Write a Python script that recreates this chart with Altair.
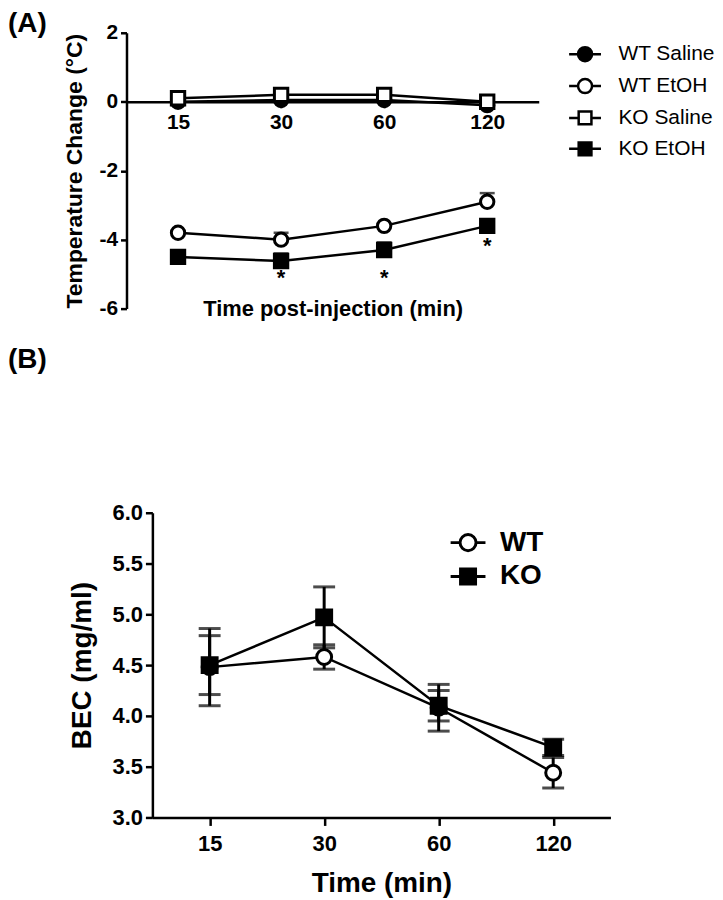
import altair as alt
import pandas as pd

FONT = "Liberation Sans"
times = ["15", "30", "60", "120"]

# ---------------- Panel A data ----------------
a_series = ["WT Saline", "WT EtOH", "KO Saline", "KO EtOH"]
a_wt_saline = [0.0, 0.05, 0.05, -0.1]
a_wt_saline_err = [0.05, 0.05, 0.05, 0.05]
a_wt_etoh = [-3.8, -4.0, -3.6, -2.9]
a_wt_etoh_err = [0.05, 0.2, 0.05, 0.25]
a_ko_saline = [0.1, 0.2, 0.2, 0.0]
a_ko_saline_err = [0.05, 0.05, 0.05, 0.05]
a_ko_etoh = [-4.5, -4.62, -4.3, -3.6]
a_ko_etoh_err = [0.05, 0.22, 0.22, 0.05]
sig_times = ["30", "60", "120"]
sig_y = [-5.0, -5.0, -4.08]

# ---------------- Panel B data ----------------
b_series = ["WT", "KO"]
b_wt = [4.48, 4.58, 4.08, 3.44]
b_wt_err = [0.38, 0.12, 0.23, 0.15]
b_ko = [4.50, 4.97, 4.10, 3.69]
b_ko_err = [0.29, 0.30, 0.15, 0.08]

a_means = [a_wt_saline, a_wt_etoh, a_ko_saline, a_ko_etoh]
a_errs = [a_wt_saline_err, a_wt_etoh_err, a_ko_saline_err, a_ko_etoh_err]
rows = []
for s, m, e in zip(a_series, a_means, a_errs):
    for t, v, ev in zip(times, m, e):
        rows.append({"series": s, "time": t, "mean": v, "lo": v, "hi": v + ev})
dfA = pd.DataFrame(rows)
dfSig = pd.DataFrame({"time": sig_times, "y": sig_y})

rows = []
for s, m, e in zip(b_series, [b_wt, b_ko], [b_wt_err, b_ko_err]):
    for t, v, ev in zip(times, m, e):
        rows.append({"series": s, "time": t, "mean": v, "lo": v - ev, "hi": v + ev})
dfB = pd.DataFrame(rows)


def circ(r):
    return f"M-1,0H{-r}M{r},0H1M{-r},0A{r},{r},0,1,0,{r},0A{r},{r},0,1,0,{-r},0Z"


def sq(h):
    return f"M-1,0H{-h}M{h},0H1M{-h},{-h}H{h}V{h}H{-h}Z"


# ---------------- Panel A ----------------
xscA = alt.Scale(type="point", padding=0.5, range=[-26, 388])
xA = alt.X("time:O", sort=times, scale=xscA,
           axis=alt.Axis(orient="bottom", offset=-207.75, title="Time post-injection (min)",
                         titleY=208, titleBaseline="middle", titleFontSize=22,
                         labelFontSize=21, labelAngle=0, tickSize=6, labelPadding=4))
yA = alt.Y("mean:Q", scale=alt.Scale(domain=[-6, 2], nice=False, zero=False),
           axis=alt.Axis(values=[-6, -4, -2, 0, 2], labelExpr="'' + datum.value", offset=26,
                         title="Temperature Change (°C)", titleFontSize=23, titlePadding=13,
                         labelFontSize=21, tickSize=6, labelPadding=3))

baseA = alt.Chart(dfA)
errA = baseA.mark_rule(color="black", strokeWidth=2.5).encode(
    x=xA, y=alt.Y("lo:Q"), y2="hi:Q")
capA = baseA.mark_tick(color="black", orient="horizontal", size=15, thickness=2.5).encode(
    x=xA, y=alt.Y("hi:Q"))
lineA = baseA.mark_line(color="black", strokeWidth=2.5).encode(
    x=xA, y=yA, detail="series:N")
ptA = baseA.mark_point(size=180, strokeWidth=3, stroke="black", opacity=1, fillOpacity=1).encode(
    x=xA, y=yA,
    shape=alt.Shape("series:N", scale=alt.Scale(domain=a_series, range=["circle", "circle", "square", "square"]), legend=None),
    fill=alt.Fill("series:N", scale=alt.Scale(domain=a_series, range=["black", "white", "white", "black"]), legend=None))
legA_props = dict(title=None, orient="none", legendX=417, legendY=4, direction="vertical",
                  padding=0, rowPadding=2, symbolSize=1024, symbolStrokeWidth=2.5,
                  symbolStrokeColor="black", symbolOpacity=1, labelFont=FONT,
                  labelFontSize=21, labelColor="black", labelOffset=16, labelLimit=300)
legA = baseA.mark_point(size=1024, opacity=0, strokeWidth=2.5).encode(
    x=xA, y=yA,
    shape=alt.Shape("series:N", scale=alt.Scale(domain=a_series, range=[circ(0.44), circ(0.44), sq(0.4), sq(0.4)]),
                    legend=alt.Legend(**legA_props)),
    fill=alt.Fill("series:N", scale=alt.Scale(domain=a_series, range=["black", "white", "white", "black"]),
                  legend=alt.Legend(**legA_props)),
    stroke=alt.Stroke("series:N", scale=alt.Scale(domain=a_series, range=["black"] * 4),
                      legend=alt.Legend(**legA_props)))
sigA = alt.Chart(dfSig).mark_text(text="*", fontSize=22, fontWeight="bold", font=FONT,
                                  baseline="middle", dy=4, color="black").encode(
    x=alt.X("time:O", sort=times, scale=xscA), y=alt.Y("y:Q"))

chartA = alt.layer(errA, capA, lineA, ptA, legA, sigA).resolve_scale(
    shape="independent", fill="independent", stroke="independent").properties(
    width=388, height=277)

# ---------------- Panel B ----------------
xB = alt.X("time:O", sort=times, scale=alt.Scale(type="point", padding=0.5),
           axis=alt.Axis(title="Time (min)", titleFontSize=28, titlePadding=15,
                         labelFontSize=22, labelAngle=0, tickSize=8, labelPadding=8))
yB = alt.Y("mean:Q", scale=alt.Scale(domain=[3, 6], nice=False, zero=False),
           axis=alt.Axis(values=[3.0, 3.5, 4.0, 4.5, 5.0, 5.5, 6.0], format=".1f",
                         title="BEC (mg/ml)", titleFontSize=28, titlePadding=16,
                         labelFontSize=22, tickSize=7, labelPadding=3))

baseB = alt.Chart(dfB)
errB = baseB.mark_rule(color="black", strokeWidth=3).encode(x=xB, y=alt.Y("lo:Q"), y2="hi:Q")
capBhi = baseB.mark_tick(color="black", orient="horizontal", size=22, thickness=3).encode(x=xB, y=alt.Y("hi:Q"))
capBlo = baseB.mark_tick(color="black", orient="horizontal", size=22, thickness=3).encode(x=xB, y=alt.Y("lo:Q"))
lineB = baseB.mark_line(color="black", strokeWidth=2.5).encode(x=xB, y=yB, detail="series:N")
ptB = baseB.mark_point(size=225, strokeWidth=3, stroke="black", opacity=1, fillOpacity=1).encode(
    x=xB, y=yB,
    shape=alt.Shape("series:N", scale=alt.Scale(domain=b_series, range=["circle", "square"]), legend=None),
    fill=alt.Fill("series:N", scale=alt.Scale(domain=b_series, range=["white", "black"]), legend=None))
legB_props = dict(title=None, orient="none", legendX=298, legendY=11, direction="vertical",
                  padding=0, rowPadding=0, symbolSize=1225, symbolStrokeWidth=3,
                  symbolStrokeColor="black", symbolOpacity=1, labelFont=FONT,
                  labelFontSize=28, labelFontWeight="bold", labelColor="black",
                  labelOffset=13, labelLimit=300)
legB = baseB.mark_point(size=1225, opacity=0, strokeWidth=3).encode(
    x=xB, y=yB,
    shape=alt.Shape("series:N", scale=alt.Scale(domain=b_series, range=[circ(0.46), sq(0.43)]),
                    legend=alt.Legend(**legB_props)),
    fill=alt.Fill("series:N", scale=alt.Scale(domain=b_series, range=["white", "black"]),
                  legend=alt.Legend(**legB_props)),
    stroke=alt.Stroke("series:N", scale=alt.Scale(domain=b_series, range=["black", "black"]),
                      legend=alt.Legend(**legB_props)))

chartB = alt.layer(errB, capBhi, capBlo, lineB, ptB, legB).resolve_scale(
    shape="independent", fill="independent", stroke="independent").properties(
    width=460, height=306,
    title=alt.TitleParams("(B)", anchor="start", frame="group", dx=-145, offset=128,
                          fontSize=28, fontWeight="bold", font=FONT, color="black"))

chart = alt.concat(chartA, chartB, columns=1, spacing=26,
                   title=alt.TitleParams("(A)", anchor="start", frame="bounds", offset=-16,
                                         fontSize=28, fontWeight="bold", font=FONT,
                                         color="black")).properties(
    padding=0).configure_view(stroke=None).configure_axis(
    grid=False, domainColor="black", domainWidth=2.5, tickColor="black", tickWidth=2.5,
    labelFont=FONT, labelFontWeight="bold", labelColor="black",
    titleFont=FONT, titleFontWeight="bold", titleColor="black")

chart.save("out.html", embed_options={"renderer": "svg", "actions": False})
